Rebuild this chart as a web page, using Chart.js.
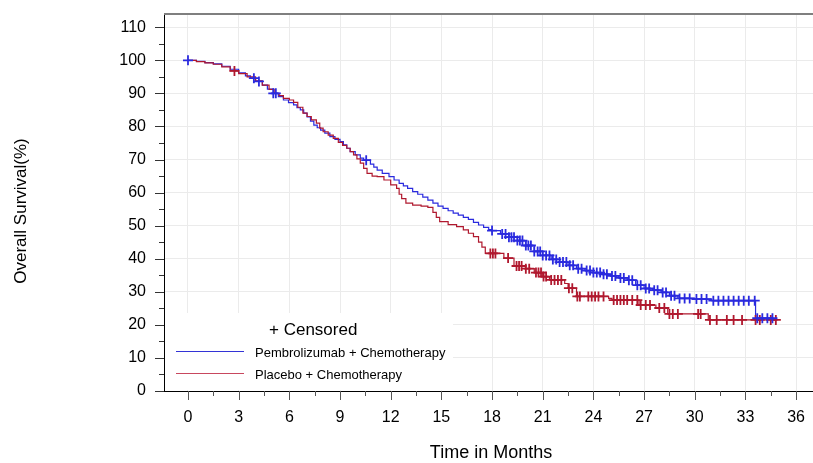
<!DOCTYPE html>
<html>
<head>
<meta charset="utf-8">
<script src="https://cdn.jsdelivr.net/npm/chart.js@4"></script>
<style>html,body{margin:0;padding:0;background:#fff;}canvas{display:block;}</style>
</head>
<body>
<canvas id="c" width="813" height="463"></canvas>
<script>
const seriesNames = ['Pembrolizumab + Chemotherapy', 'Placebo + Chemotherapy'];
const seriesColors = ['#2a2ade', '#b0182e'];
const legendLineColors = ['#3333d6', '#c8485e'];
const censorLabel = '+ Censored';
const xTitle = 'Time in Months';
const yTitle = 'Overall Survival(%)';

const xTickValues = [0, 3, 6, 9, 12, 15, 18, 21, 24, 27, 30, 33, 36];
const xTickLabels = ['0', '3', '6', '9', '12', '15', '18', '21', '24', '27', '30', '33', '36'];
const yTickValues = [0, 10, 20, 30, 40, 50, 60, 70, 80, 90, 100, 110];
const yTickLabels = ['0', '10', '20', '30', '40', '50', '60', '70', '80', '90', '100', '110'];

const pembroTimes = [0,0.5,1.0,1.5,2.0,2.5,3.0,3.4,3.7,4.0,4.4,4.7,5.05,5.35,5.65,5.95,6.25,6.45,6.65,6.85,7.05,7.25,7.45,7.65,7.85,8.1,8.4,8.7,9.0,9.2,9.4,9.6,9.9,10.2,10.4,10.8,11.0,11.2,11.5,11.9,12.2,12.5,12.75,13.0,13.3,13.6,13.9,14.2,14.5,14.8,15.1,15.4,15.7,16.0,16.3,16.6,16.9,17.2,17.5,17.8,18.0,18.5,19.0,19.5,20.0,20.5,21.0,21.5,22.0,22.5,23.0,23.5,24.0,24.5,25.0,25.5,26.0,26.5,27.0,27.5,28.0,28.5,29.0,30.0,31.0,33.6,34.7];
const pembroSurv = [100,99.7,99.3,98.9,98.2,97.3,96.2,95.3,94.6,93.6,92.5,91.3,90.0,89.0,88.0,87.2,86.5,85.7,85.0,84.0,82.9,81.6,80.4,79.6,78.9,78.0,76.9,76.1,75.4,74.4,73.4,72.4,71.4,70.4,69.8,68.6,67.7,66.8,65.8,64.8,63.8,62.8,62.0,61.3,60.3,59.5,58.6,57.7,56.8,55.9,55.2,54.5,53.8,53.2,52.5,51.9,51.0,50.2,49.5,48.8,48.5,47.5,46.5,45.5,44.0,42.2,41.0,39.8,39.0,38.0,37.0,36.4,35.8,35.3,34.8,34.2,33.5,32.0,31.0,30.5,29.8,28.8,28.0,27.8,27.3,22.0,22.0];

const placeboTimes = [0,0.5,1.0,1.5,2.0,2.5,3.0,3.5,4.0,4.4,4.8,5.1,5.4,5.65,6.0,6.25,6.5,6.8,7.05,7.3,7.6,7.8,8.0,8.3,8.6,8.9,9.15,9.4,9.6,9.8,10.0,10.2,10.4,10.6,10.9,11.2,11.6,12.0,12.35,12.5,12.65,12.9,13.3,13.8,14.2,14.5,14.7,14.9,15.4,15.9,16.3,16.6,16.9,17.2,17.4,17.6,18.7,19.3,20.0,20.5,21.0,21.4,22.3,22.5,23.0,24.9,25.1,26.7,27.7,28.4,30.8,34.9];
const placeboSurv = [100,99.6,99.2,98.8,98.0,96.8,96.0,95.0,93.8,92.5,91.2,90.0,89.3,88.5,88.0,87.3,85.8,84.0,83.0,82.0,81.0,79.5,78.4,77.4,76.4,75.2,74.3,73.4,72.4,71.4,70.2,68.9,67.3,65.8,65.0,64.8,63.8,62.3,61.3,59.5,58.2,56.8,56.2,55.9,55.5,54.0,52.5,51.2,50.3,49.7,48.7,47.7,46.7,45.0,43.5,41.6,40.2,37.8,37.0,35.8,34.6,33.6,32.5,31.1,28.6,28.0,27.5,26.0,25.1,23.3,21.5,21.5];

const pembroCensorTimes = [0,3.9,4.2,5.05,5.2,10.55,18.0,18.6,18.8,19.0,19.15,19.3,19.5,19.65,19.8,20.0,20.15,20.3,20.5,20.7,20.85,21.0,21.2,21.4,21.6,21.8,22.0,22.2,22.4,22.6,22.8,23.1,23.3,23.6,23.8,24.0,24.2,24.4,24.6,24.8,25.1,25.3,25.6,25.8,26.1,26.3,26.6,26.8,27.1,27.3,27.6,27.8,28.1,28.3,28.6,28.8,29.1,29.4,29.7,30.1,30.4,30.7,31.1,31.4,31.7,32.0,32.3,32.6,32.9,33.2,33.55,33.7,34.0,34.3,34.6];
const pembroCensorSurv = [100,94.6,93.6,90.0,90.0,69.8,48.5,47.5,47.5,46.5,46.5,46.5,45.5,45.5,45.5,44.0,44.0,44.0,42.2,42.2,42.2,41.0,41.0,41.0,39.8,39.8,39.0,39.0,39.0,38.0,38.0,37.0,37.0,36.4,36.4,35.8,35.8,35.8,35.3,35.3,34.8,34.8,34.2,34.2,33.5,33.5,32.0,32.0,31.0,31.0,30.5,30.5,29.8,29.8,28.8,28.8,28.0,28.0,28.0,27.8,27.8,27.8,27.3,27.3,27.3,27.3,27.3,27.3,27.3,27.3,27.3,22.0,22.0,22.0,22.0];

const placeboCensorTimes = [2.75,17.9,18.05,18.2,18.95,19.45,19.6,19.75,20.0,20.2,20.6,20.75,20.9,21.05,21.2,21.5,21.7,21.9,22.1,22.55,22.75,23.05,23.2,23.7,23.9,24.1,24.3,24.6,25.2,25.4,25.6,25.8,26.0,26.3,26.6,26.8,27.1,27.35,27.9,28.2,28.5,28.7,29.0,30.2,30.35,30.9,31.3,31.9,32.3,32.8,33.6,33.85,34.5,34.8];
const placeboCensorSurv = [96.8,41.6,41.6,41.6,40.2,37.8,37.8,37.8,37.0,37.0,35.8,35.8,35.8,34.6,34.6,33.6,33.6,33.6,33.6,31.1,31.1,28.6,28.6,28.6,28.6,28.6,28.6,28.6,27.5,27.5,27.5,27.5,27.5,27.5,27.5,26.0,26.0,26.0,25.1,25.1,23.3,23.3,23.3,23.3,23.3,21.5,21.5,21.5,21.5,21.5,21.5,21.5,21.5,21.5];

const pts = (xs, ys) => xs.map((x, i) => ({ x: x, y: ys[i] }));

const FONT = "'Liberation Sans', Arial, Helvetica, sans-serif";
Chart.defaults.font.family = FONT;
Chart.defaults.color = '#000';

const noPad = s => { s.paddingTop = 0; s.paddingBottom = 0; s.paddingLeft = 0; s.paddingRight = 0; };

const decor = {
  id: 'decor',
  beforeDatasetsDraw(chart) {
    const ctx = chart.ctx;
    ctx.save();
    ctx.fillStyle = '#fff';
    ctx.fillRect(165, 313, 288, 77);
    ctx.restore();
  },
  afterDraw(chart) {
    const ctx = chart.ctx;
    const a = chart.chartArea;
    const xs = chart.scales.x, ys = chart.scales.y;
    ctx.save();
    ctx.strokeStyle = '#7f7f7f';
    ctx.lineWidth = 2;
    ctx.beginPath(); ctx.moveTo(a.left, a.top); ctx.lineTo(a.right, a.top); ctx.stroke();
    ctx.strokeStyle = '#555';
    ctx.lineWidth = 1;
    xTickValues.forEach((v, i) => {
      const px = Math.round(xs.getPixelForValue(v)) + 0.5;
      ctx.beginPath(); ctx.moveTo(px, a.bottom); ctx.lineTo(px, a.bottom + 9); ctx.stroke();
      if (i < xTickValues.length - 1) {
        const m = Math.round(xs.getPixelForValue((v + xTickValues[i + 1]) / 2)) + 0.5;
        ctx.beginPath(); ctx.moveTo(m, a.bottom); ctx.lineTo(m, a.bottom + 5); ctx.stroke();
      }
    });
    ctx.strokeStyle = '#333';
    yTickValues.forEach((v, i) => {
      const py = Math.round(ys.getPixelForValue(v)) + 0.5;
      ctx.beginPath(); ctx.moveTo(a.left, py); ctx.lineTo(a.left - 9, py); ctx.stroke();
      if (i < yTickValues.length - 1) {
        const m = Math.round(ys.getPixelForValue((v + yTickValues[i + 1]) / 2)) + 0.5;
        ctx.beginPath(); ctx.moveTo(a.left, m); ctx.lineTo(a.left - 5, m); ctx.stroke();
      }
    });
    ctx.textAlign = 'left';
    ctx.textBaseline = 'alphabetic';
    ctx.fillStyle = '#000';
    ctx.font = '17px ' + FONT;
    ctx.fillText(censorLabel, 269, 335);
    ctx.font = '13px ' + FONT;
    const rowsY = [351, 373];
    seriesNames.forEach((name, i) => {
      ctx.fillStyle = legendLineColors[i];
      ctx.fillRect(176, rowsY[i], 68, 1);
      ctx.fillStyle = '#000';
      ctx.fillText(name, 255, rowsY[i] + 5.5);
    });
    ctx.font = '18px ' + FONT;
    ctx.textAlign = 'center';
    ctx.fillText(xTitle, 491, 458);
    ctx.translate(21, 211);
    ctx.rotate(-Math.PI / 2);
    ctx.font = '17px ' + FONT;
    ctx.textBaseline = 'middle';
    ctx.fillText(yTitle, 0, 0);
    ctx.restore();
  }
};

new Chart(document.getElementById('c'), {
  type: 'line',
  data: {
    datasets: [
      { type: 'scatter', data: pts(pembroCensorTimes, pembroCensorSurv), showLine: false,
        pointStyle: 'cross', pointRadius: 5, pointBorderWidth: 1.8, borderColor: seriesColors[0], backgroundColor: seriesColors[0] },
      { type: 'scatter', data: pts(placeboCensorTimes, placeboCensorSurv), showLine: false,
        pointStyle: 'cross', pointRadius: 5, pointBorderWidth: 1.8, borderColor: seriesColors[1], backgroundColor: seriesColors[1] },
      { label: seriesNames[1], data: pts(placeboTimes, placeboSurv), stepped: true,
        borderColor: seriesColors[1], borderWidth: 1.2, pointRadius: 0, fill: false },
      { label: seriesNames[0], data: pts(pembroTimes, pembroSurv), stepped: true,
        borderColor: seriesColors[0], borderWidth: 1.2, pointRadius: 0, fill: false }
    ]
  },
  options: {
    responsive: false,
    devicePixelRatio: 1,
    animation: false,
    layout: { autoPadding: false, padding: { top: 14, right: 0, left: 0, bottom: 0 } },
    plugins: { legend: { display: false }, tooltip: { enabled: false } },
    scales: {
      x: {
        type: 'linear', min: -1.42, max: 37.0,
        afterBuildTicks: s => { s.ticks = xTickValues.map(v => ({ value: v })); },
        afterFit: s => { s.height = 72; noPad(s); },
        ticks: { padding: 17, font: { size: 16 }, color: '#000', maxRotation: 0, autoSkip: false,
          callback: (v) => xTickLabels[xTickValues.indexOf(v)] },
        grid: { color: '#ebebeb', lineWidth: 1, drawTicks: false },
        border: { display: true, color: '#000', width: 1 }
      },
      y: {
        type: 'linear', min: 0, max: 114,
        afterBuildTicks: s => { s.ticks = yTickValues.map(v => ({ value: v })); },
        afterFit: s => { s.width = 164; noPad(s); },
        ticks: { padding: 18, font: { size: 16 }, color: '#000', autoSkip: false,
          callback: (v) => yTickLabels[yTickValues.indexOf(v)] },
        grid: { color: '#ebebeb', lineWidth: 1, drawTicks: false },
        border: { display: true, color: '#000', width: 1 }
      }
    }
  },
  plugins: [decor]
});
</script>
</body>
</html>
